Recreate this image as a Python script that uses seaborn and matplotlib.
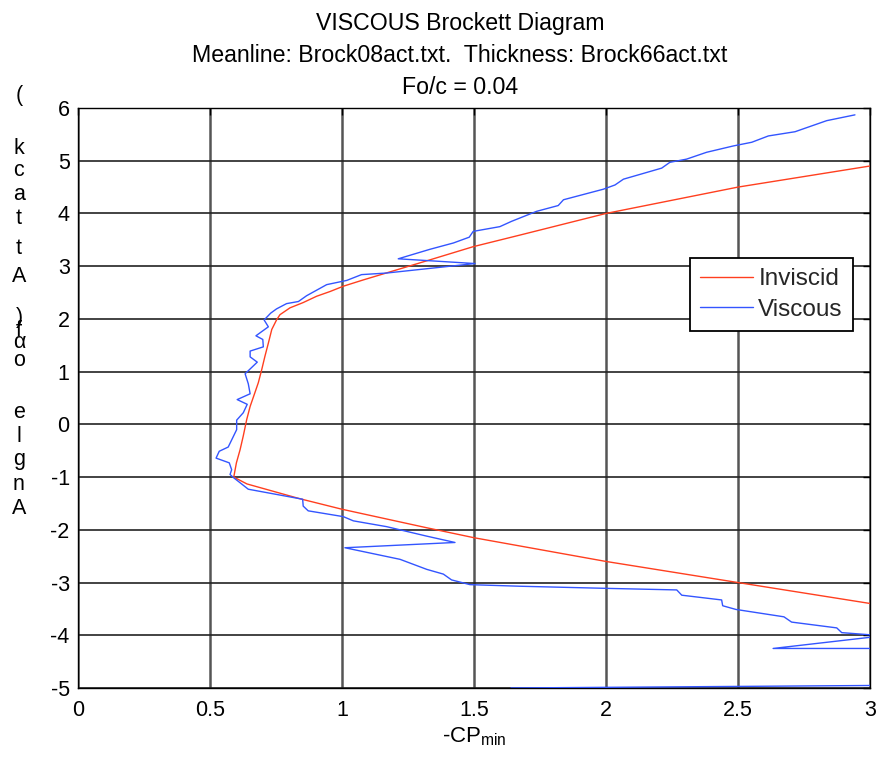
import matplotlib
matplotlib.use("Agg")
import matplotlib.pyplot as plt
import numpy as np
import pandas as pd
import seaborn as sns

# ---------------- data ----------------
title_lines = ["VISCOUS Brockett Diagram",
               "Meanline: Brock08act.txt.  Thickness: Brock66act.txt",
               "Fo/c = 0.04"]
series_names = ["Inviscid", "Viscous"]
x_ticks = [0, 0.5, 1, 1.5, 2, 2.5, 3]
x_tick_labels = ["0", "0.5", "1", "1.5", "2", "2.5", "3"]
y_ticks = [-5, -4, -3, -2, -1, 0, 1, 2, 3, 4, 5, 6]
y_tick_labels = ["-5", "-4", "-3", "-2", "-1", "0", "1", "2", "3", "4", "5", "6"]
ylabel_chars = ["(", "k", "c", "a", "t", "t", "A", ")", "f", "\u03b1", "o",
                "e", "l", "g", "n", "A"]

inv_alpha = [-3.5, -3.0, -2.6, -2.15, -1.96, -1.61, -1.41, -1.13, -1.0, -0.73,
             -0.48, -0.22, 0.09, 0.34, 0.60, 0.79, 1.04, 1.29, 1.54, 1.80,
             1.98, 2.08, 2.21, 2.31, 2.43, 2.52, 2.62, 2.74, 2.93, 3.12,
             3.37, 3.59, 4.0, 4.5, 4.9, 5.0]
inv_cp = [3.13, 2.5, 2.0, 1.5, 1.32, 1.0, 0.84, 0.64, 0.59, 0.60,
          0.614, 0.626, 0.639, 0.652, 0.670, 0.683, 0.696, 0.708, 0.721, 0.734,
          0.752, 0.765, 0.803, 0.853, 0.904, 0.955, 1.005, 1.081, 1.207, 1.333,
          1.497, 1.674, 2.0, 2.5, 3.0, 3.12]

visc_alpha = [-5.0, -4.9, -4.25, -4.25, -4.01, -3.95, -3.86, -3.75, -3.65, -3.51,
              -3.44, -3.33, -3.24, -3.14, -3.11, -3.07, -3.04, -2.95, -2.84, -2.75,
              -2.56, -2.34, -2.24, -2.12, -1.94, -1.83, -1.75, -1.64, -1.55, -1.42,
              -1.23, -1.08, -1.01, -0.95, -0.86, -0.73, -0.64, -0.51, -0.43, -0.10,
              0.08, 0.22, 0.38, 0.47, 0.58, 0.77, 0.96, 1.18, 1.28, 1.39,
              1.47, 1.61, 1.68, 1.85, 1.98, 2.11, 2.19, 2.29, 2.33, 2.44,
              2.65, 2.73, 2.84, 2.87, 3.05, 3.14, 3.32, 3.44, 3.55, 3.66,
              3.75, 3.85, 4.04, 4.15, 4.26, 4.46, 4.54, 4.65, 4.86, 4.97,
              5.03, 5.16, 5.28, 5.35, 5.47, 5.55, 5.76, 5.87]
visc_cp = [1.64, 4.5, 6.0, 2.633, 3.05, 2.893, 2.874, 2.703, 2.674, 2.492,
           2.442, 2.438, 2.287, 2.268, 2.0, 1.674, 1.485, 1.415, 1.384, 1.321,
           1.22, 1.011, 1.428, 1.321, 1.169, 1.043, 1.005, 0.872, 0.853, 0.851,
           0.645, 0.607, 0.589, 0.576, 0.582, 0.573, 0.523, 0.535, 0.569, 0.601,
           0.601, 0.626, 0.641, 0.603, 0.652, 0.645, 0.633, 0.679, 0.652, 0.652,
           0.702, 0.700, 0.674, 0.721, 0.705, 0.730, 0.752, 0.790, 0.835, 0.866,
           0.942, 1.018, 1.074, 1.169, 1.504, 1.213, 1.333, 1.422, 1.482, 1.497,
           1.598, 1.642, 1.737, 1.819, 1.839, 1.99, 2.034, 2.066, 2.211, 2.242,
           2.305, 2.381, 2.482, 2.552, 2.615, 2.716, 2.836, 2.943]

# ---------------- style ----------------
sns.set_theme(style="white")
plt.rcParams["font.family"] = ["Liberation Sans", "DejaVu Sans"]
plt.rcParams["mathtext.fontset"] = "custom"
plt.rcParams["mathtext.rm"] = "Liberation Sans"
plt.rcParams["mathtext.it"] = "Liberation Sans"
plt.rcParams["mathtext.bf"] = "Liberation Sans"

df = pd.concat([
    pd.DataFrame({"cp": inv_cp, "alpha": inv_alpha, "series": series_names[0]}),
    pd.DataFrame({"cp": visc_cp, "alpha": visc_alpha, "series": series_names[1]}),
], ignore_index=True)

W, H = 878, 758
fig = plt.figure(figsize=(W / 100, H / 100), dpi=100, facecolor="white")
ax = fig.add_axes([78 / W, 1 - 688 / H, (870 - 78) / W, (688 - 108) / H])

palette = {series_names[0]: "#FF3F1F", series_names[1]: "#3355FF"}
sns.lineplot(data=df, x="cp", y="alpha", hue="series", palette=palette,
             sort=False, estimator=None, linewidth=1.0, legend=False, ax=ax,
             zorder=3)

ax.set_xlim(0, 3)
ax.set_ylim(-5, 6)
ax.set_xticks(x_ticks)
ax.set_xticklabels(x_tick_labels)
ax.set_yticks(y_ticks)
ax.set_yticklabels(y_tick_labels)
ax.tick_params(axis="both", direction="in", length=5, width=1, colors="black",
               labelsize=15.5, top=True, right=True)
ax.tick_params(axis="x", pad=9)
ax.tick_params(axis="y", pad=6)

ax.xaxis.grid(True, color="#555555", linewidth=1.8)
ax.yaxis.grid(True, color="#222222", linewidth=1.2)
ax.set_axisbelow(True)
for sp in ax.spines.values():
    sp.set_visible(True)
    sp.set_color("black")
    sp.set_linewidth(1.0)

ax.set_xlabel("-CP$_{\\mathrm{min}}$", fontsize=16, labelpad=3, color="black")
ax.set_ylabel("")
ttl = ax.set_title("\n".join(title_lines), fontsize=16.7, pad=10,
                   color="black", linespacing=1.5)
ttl.set_x((460 - 78) / (870 - 78))

# y label drawn as stacked characters (as in the reference)
char_y_px = [95, 148, 171, 194, 219, 249, 276, 317, 330, 343, 360,
             412, 436, 460, 484, 508]
for ch, py in zip(ylabel_chars, char_y_px):
    fig.text(19 / W, 1 - py / H, ch, fontsize=15.5, ha="center", va="center",
             color="black")

leg = ax.legend(handles=ax.lines[:2], labels=series_names, loc="center",
                bbox_to_anchor=(0.8755, 0.6785), fontsize=17.5, frameon=True,
                fancybox=False, framealpha=1, edgecolor="black",
                handlelength=2.2, handletextpad=0.2, borderpad=0.42,
                labelspacing=0.35, borderaxespad=0)
leg.get_frame().set_linewidth(1.3)
leg.set_zorder(5)

fig.savefig("out.png", dpi=100, facecolor="white")
